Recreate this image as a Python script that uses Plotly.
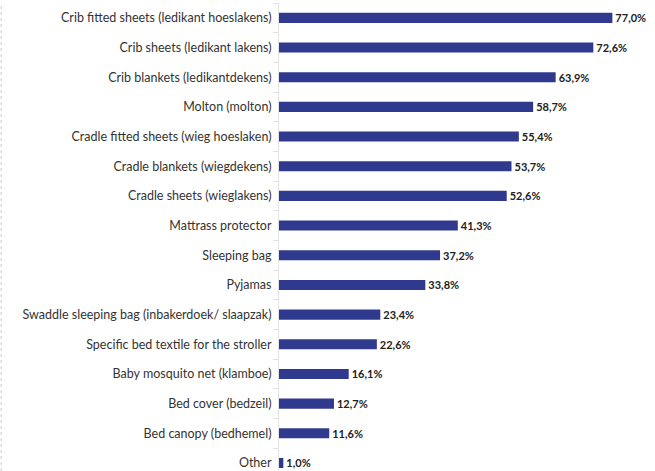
import plotly.graph_objects as go

categories = [
    "Crib fitted sheets (ledikant hoeslakens)",
    "Crib sheets (ledikant lakens)",
    "Crib blankets (ledikantdekens)",
    "Molton (molton)",
    "Cradle fitted sheets (wieg hoeslaken)",
    "Cradle blankets (wiegdekens)",
    "Cradle sheets (wieglakens)",
    "Mattrass protector",
    "Sleeping bag",
    "Pyjamas",
    "Swaddle sleeping bag (inbakerdoek/ slaapzak)",
    "Specific bed textile for the stroller",
    "Baby mosquito net (klamboe)",
    "Bed cover (bedzeil)",
    "Bed canopy (bedhemel)",
    "Other",
]
values = [77.0, 72.6, 63.9, 58.7, 55.4, 53.7, 52.6, 41.3, 37.2, 33.8, 23.4, 22.6, 16.1, 12.7, 11.6, 1.0]
labels = [f"{v:.1f}%".replace(".", ",") for v in values]

fig = go.Figure(go.Bar(
    y=categories, x=values, orientation="h",
    marker=dict(color="#2f3a8f", line=dict(width=0)),
    width=0.34,
    text=labels, textposition="outside", cliponaxis=False,
    constraintext="none",
    textfont=dict(family="Lato", size=11, color="#222222", weight="bold"),
))

fig.update_layout(
    width=655, height=471,
    margin=dict(l=279, r=8, t=3, b=0),
    paper_bgcolor="white", plot_bgcolor="white",
    showlegend=False,
    font=dict(family="Lato", size=12.5, color="#333333"),
    xaxis=dict(range=[0, 85], visible=False),
    yaxis=dict(
        range=[15.27, -0.5], autorange=False,
        showline=True, linecolor="#e3e3e3", linewidth=1,
        ticks="outside", tickson="boundaries", ticklen=5, tickcolor="#e3e3e3",
        showgrid=False, ticklabelstandoff=4,
        tickfont=dict(family="Lato", size=12.5, color="#333333"),
    ),
    shapes=[dict(type="line", xref="paper", yref="paper",
                 x0=-0.755, x1=-0.755, y0=0, y1=1,
                 line=dict(color="#cccccc", width=1, dash="dot"))],
)

fig.write_html("out.html", config={"displayModeBar": False},
               post_script="document.body.style.margin='0';")
